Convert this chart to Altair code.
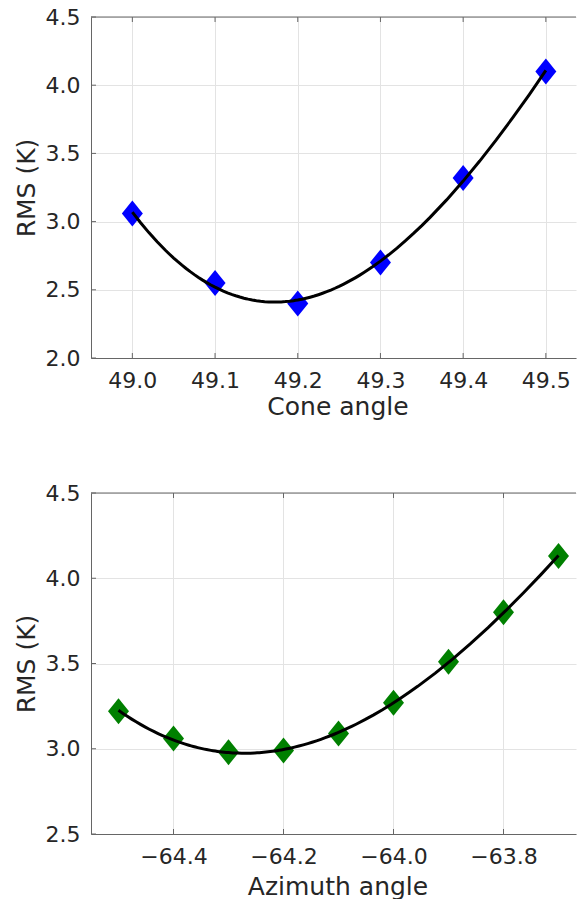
import altair as alt
import pandas as pd

# ---- data ----
cone_angle = [49.0, 49.1, 49.2, 49.3, 49.4, 49.5]
cone_rms = [3.06, 2.55, 2.40, 2.70, 3.32, 4.10]

azimuth_angle = [-64.5, -64.4, -64.3, -64.2, -64.1, -64.0, -63.9, -63.8, -63.7]
azimuth_rms = [3.22, 3.06, 2.98, 2.99, 3.09, 3.27, 3.51, 3.80, 4.13]

cone_xticks = [49.0, 49.1, 49.2, 49.3, 49.4, 49.5]
cone_yticks = [2.0, 2.5, 3.0, 3.5, 4.0, 4.5]
az_xticks = [-64.4, -64.2, -64.0, -63.8]
az_yticks = [2.5, 3.0, 3.5, 4.0, 4.5]

FONT = "DejaVu Sans"
TXT = "#262626"
AXC = "#666666"
W, H = 485, 341
DIAMOND = "M0,-1.24L1,0L0,1.24L-1,0Z"


def panel(xs, ys, color, xdomain, ydomain, xticks, yticks, xtitle, title_y):
    df = pd.DataFrame({"x": xs, "y": ys})
    xs_ = alt.Scale(domain=xdomain, nice=False, zero=False)
    ys_ = alt.Scale(domain=ydomain, nice=False, zero=False)
    xaxis = alt.Axis(values=xticks, format=".1f", title=xtitle, labelPadding=12,
                     titleY=title_y, titleBaseline="alphabetic", titleX=W / 2 + 4)
    yaxis = alt.Axis(values=yticks, format=".1f", title="RMS (K)", labelPadding=11,
                     titleX=-65, titleY=H / 2, titleBaseline="middle", titleAlign="center")
    pts = alt.Chart(df).mark_point(shape=DIAMOND, filled=True, size=441, color=color,
                                   opacity=1).encode(
        x=alt.X("x:Q", scale=xs_, axis=xaxis),
        y=alt.Y("y:Q", scale=ys_, axis=yaxis),
    )
    fit = alt.Chart(df).transform_regression("x", "y", method="poly", order=3).mark_line(
        color="black", strokeWidth=3).encode(
        x=alt.X("x:Q", scale=xs_, axis=xaxis),
        y=alt.Y("y:Q", scale=ys_, axis=yaxis),
    )
    xt = pd.DataFrame({"t": xticks})
    yt = pd.DataFrame({"t": yticks})
    one = pd.DataFrame({"t": xticks[:1]})
    frame_top = alt.Chart(one).mark_rule(color=AXC, strokeWidth=1).encode(
        x=alt.value(0), x2=alt.value(W), y=alt.value(0))
    tick_top = alt.Chart(xt).mark_rule(color=AXC, strokeWidth=1).encode(
        x=alt.X("t:Q", scale=xs_, axis=xaxis), y=alt.value(0), y2=alt.value(5))
    tick_bot = alt.Chart(xt).mark_rule(color=AXC, strokeWidth=1).encode(
        x=alt.X("t:Q", scale=xs_, axis=xaxis), y=alt.value(H), y2=alt.value(H - 5))
    tick_left = alt.Chart(yt).mark_rule(color=AXC, strokeWidth=1).encode(
        y=alt.Y("t:Q", scale=ys_, axis=yaxis), x=alt.value(0), x2=alt.value(5))
    return alt.layer(frame_top, tick_top, tick_bot, tick_left, pts, fit).properties(
        width=W, height=H)


top = panel(cone_angle, cone_rms, "#0000ff", [48.95, 48.95 + W / 827.0], [2.0, 4.5],
            cone_xticks, cone_yticks, "Cone angle", 56)
bottom = panel(azimuth_angle, azimuth_rms, "#008000", [-64.55, -64.55 + W / 550.0], [2.5, 4.5],
               az_xticks, az_yticks, "Azimuth angle", 60)

chart = alt.vconcat(top, bottom, spacing=63).properties(
    padding={"left": 14, "top": 6, "right": 0, "bottom": 0},
    background="white",
).configure_view(
    strokeWidth=0
).configure_axis(
    domain=True, domainColor=AXC, domainWidth=1,
    ticks=False, grid=True, gridColor="#e3e3e3", gridWidth=1,
    labelFont=FONT, labelFontSize=22, labelColor=TXT,
    titleFont=FONT, titleFontSize=25, titleFontWeight="normal", titleColor=TXT,
)

chart.save("out.html", embed_options={"renderer": "svg", "actions": False})
